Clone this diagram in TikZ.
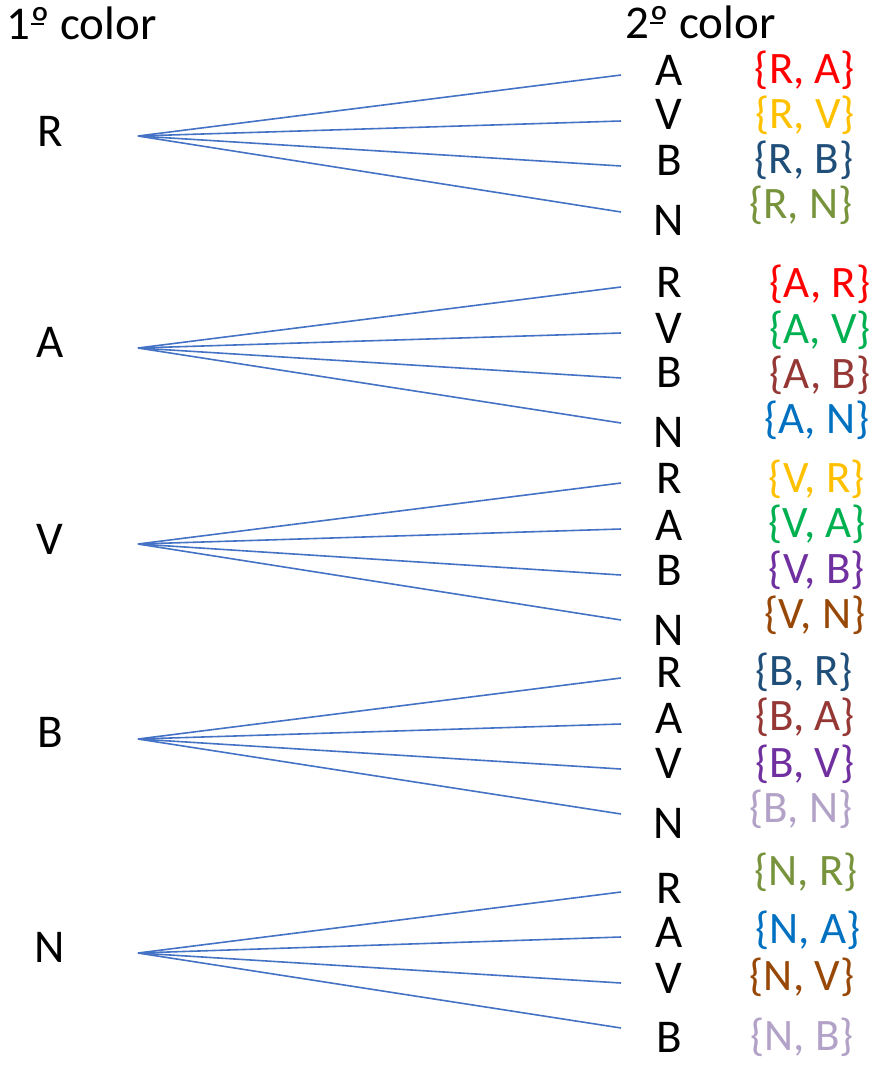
\documentclass[tikz,border=0pt]{standalone}
\usepackage{fontspec}
\setmainfont{Carlito}
% ordinal sign drawn with its bar, as in the heading font
\newcommand\ordbar{\makebox[0pt][l]{\hspace{0.02em}\raisebox{0.30em}{\rule{0.27em}{0.045em}}}º}
\begin{document}
\definecolor{cred}{HTML}{FF0000}
\definecolor{cgold}{HTML}{FFC000}
\definecolor{cnavy}{HTML}{1F4E79}
\definecolor{colive}{HTML}{77933C}
\definecolor{cgreen}{HTML}{00B050}
\definecolor{cbrick}{HTML}{953735}
\definecolor{cblue}{HTML}{0070C0}
\definecolor{cpurple}{HTML}{7030A0}
\definecolor{cbrown}{HTML}{984806}
\definecolor{clav}{HTML}{B3A2C7}
\definecolor{cline}{HTML}{4472C4}
\begin{tikzpicture}[x=1pt,y=-1pt,
  big/.style={inner sep=0pt,anchor=base,font=\fontsize{47}{56}\selectfont},
  title/.style={inner sep=0pt,anchor=base west,font=\fontsize{47}{56}\selectfont},
  pair/.style={inner sep=0pt,anchor=base,font=\fontsize{45}{54}\selectfont},
  branch/.style={draw=cline,line width=1.6pt}]
\useasboundingbox (0,0) rectangle (884,1066);

% column headings
\node[title] (h1) at (6,39) {1\ordbar{} color};
\node[title] (h2) at (625,38) {2\ordbar{} color};

% first colour and the point its branches leave from
\foreach \g/\lab/\base/\oy in {1/R/146/136, 2/A/357/348, 3/V/554/544, 4/B/747/739, 5/N/962/953} {
  \node[big] (L\g) at (50,\base) {\lab};
  \coordinate (O\g) at (138,\oy);
}

% each branch: its end, the second colour, and the resulting pair
\foreach \g/\k/\ey/\lab/\lb/\px/\pb/\pc/\ptext in {
  1/1/75/A/85/805/83/cred/{R, A},
  1/2/121/V/129/805/128/cgold/{R, V},
  1/3/166/B/175/804/173/cnavy/{R, B},
  1/4/212/N/235/801/218/colive/{R, N},
  2/1/287/R/297/820/297/cred/{A, R},
  2/2/333/V/343/820/343/cgreen/{A, V},
  2/3/378/B/387/820/388/cbrick/{A, B},
  2/4/423/N/447/817/433/cblue/{A, N},
  3/1/483/R/493/817/492/cgold/{V, R},
  3/2/529/A/540/817/537/cgreen/{V, A},
  3/3/575/B/585/817/583/cpurple/{V, B},
  3/4/620/N/645/815/628/cbrown/{V, N},
  4/1/678/R/687/804/685/cnavy/{B, R},
  4/2/724/A/733/805/730/cbrick/{B, A},
  4/3/769/V/778/805/777/cpurple/{B, V},
  4/4/814/N/838/801/822/clav/{B, N},
  5/1/892/R/903/806/885/colive/{N, R},
  5/2/937/A/947/808/943/cblue/{N, A},
  5/3/983/V/993/802/990/cbrown/{N, V},
  5/4/1028/B/1052/802/1050/clav/{N, B}} {
  \coordinate (E\g\k) at (621,\ey);
  \draw[branch] (O\g) -- (E\g\k);
  \node[big] (S\g\k) at (669,\lb) {\lab};
  \node[pair,text=\pc] (P\g\k) at (\px,\pb) {\{\ptext\}};
}
\end{tikzpicture}
\end{document}
